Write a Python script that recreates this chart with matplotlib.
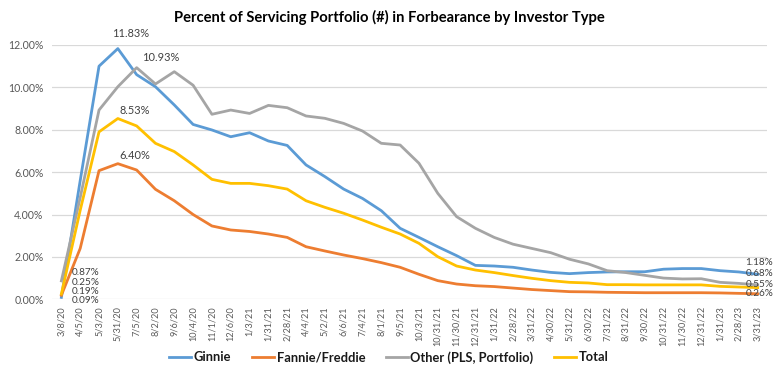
import matplotlib
matplotlib.use("Agg")
import matplotlib.pyplot as plt
from matplotlib.ticker import FuncFormatter

plt.rcParams['font.family'] = ['Lato', 'DejaVu Sans']

dates = ["3/8/20", "4/5/20", "5/3/20", "5/31/20", "7/5/20", "8/2/20", "9/6/20", "10/4/20",
         "11/1/20", "12/6/20", "1/3/21", "1/31/21", "2/28/21", "4/4/21", "5/2/21", "6/6/21",
         "7/4/21", "8/1/21", "9/5/21", "10/3/21", "10/31/21", "11/30/21", "12/31/21", "1/31/22",
         "2/28/22", "3/31/22", "4/30/22", "5/31/22", "6/30/22", "7/31/22", "8/31/22", "9/30/22",
         "10/31/22", "11/30/22", "12/31/22", "1/31/23", "2/28/23", "3/31/23"]

ginnie = [0.09, 5.6, 11.00, 11.83, 10.60, 10.03, 9.17, 8.25, 7.99, 7.67, 7.86, 7.47, 7.26,
          6.34, 5.79, 5.20, 4.76, 4.18, 3.35, 2.92, 2.48, 2.06, 1.60, 1.57, 1.51, 1.38, 1.27,
          1.21, 1.26, 1.29, 1.30, 1.30, 1.42, 1.45, 1.45, 1.35, 1.29, 1.18]
fannie = [0.19, 2.40, 6.07, 6.40, 6.10, 5.19, 4.65, 4.00, 3.46, 3.27, 3.20, 3.08, 2.92,
          2.48, 2.28, 2.09, 1.92, 1.73, 1.51, 1.18, 0.88, 0.72, 0.64, 0.60, 0.53, 0.46, 0.41,
          0.36, 0.35, 0.33, 0.32, 0.31, 0.31, 0.31, 0.31, 0.30, 0.28, 0.26]
other = [0.87, 4.80, 8.93, 10.03, 10.93, 10.16, 10.74, 10.10, 8.73, 8.93, 8.77, 9.15, 9.04,
         8.65, 8.54, 8.30, 7.94, 7.36, 7.28, 6.42, 5.00, 3.90, 3.35, 2.92, 2.60, 2.40, 2.20,
         1.89, 1.67, 1.35, 1.26, 1.13, 1.00, 0.96, 0.97, 0.80, 0.75, 0.68]
total = [0.25, 4.20, 7.90, 8.53, 8.18, 7.36, 6.97, 6.34, 5.66, 5.47, 5.47, 5.36, 5.20,
         4.65, 4.34, 4.06, 3.74, 3.40, 3.08, 2.64, 2.01, 1.57, 1.38, 1.26, 1.12, 0.99, 0.88,
         0.80, 0.77, 0.69, 0.69, 0.68, 0.68, 0.68, 0.68, 0.61, 0.58, 0.55]

series = [("Ginnie", ginnie, "#5B9BD5"),
          ("Fannie/Freddie", fannie, "#ED7D31"),
          ("Other (PLS, Portfolio)", other, "#A5A5A5"),
          ("Total", total, "#FFC000")]

fig = plt.figure(figsize=(7.78, 3.80), dpi=100)
ax = fig.add_axes([0.0668, 0.2124, 0.9192, 0.6692])

x = list(range(len(dates)))
for name, vals, col in series:
    ax.plot(x, vals, color=col, lw=2.0, label=name, solid_joinstyle='round', zorder=3)

ax.set_xlim(-0.5, len(dates) - 0.5)
ax.set_ylim(0, 12)
ax.set_yticks([0, 2, 4, 6, 8, 10, 12])
ax.yaxis.set_major_formatter(FuncFormatter(lambda v, p: f"{v:.2f}%"))
ax.set_xticks(x)
ax.set_xticklabels(dates, rotation=90, fontsize=6.6, color="#595959")
ax.tick_params(axis='y', labelsize=7.6, colors="#595959", length=0, pad=6)
ax.tick_params(axis='x', length=0, pad=5)
ax.grid(axis='y', color="#D9D9D9", lw=0.9, zorder=0)
for s in ax.spines.values():
    s.set_visible(False)

lab_kw = dict(textcoords='offset pixels', fontsize=7.9, color="#404040", annotation_clip=False)
stk_kw = dict(textcoords='offset pixels', fontsize=7.2, color="#404040", annotation_clip=False)
# peak labels
ax.annotate(f"{ginnie[3]:.2f}%", (3, ginnie[3]), xytext=(13, 15), ha='center', va='center', **lab_kw)
ax.annotate(f"{other[4]:.2f}%", (4, other[4]), xytext=(5, 10), ha='left', va='center', **lab_kw)
ax.annotate(f"{total[3]:.2f}%", (3, total[3]), xytext=(17, 8.5), ha='center', va='center', **lab_kw)
ax.annotate(f"{fannie[3]:.2f}%", (3, fannie[3]), xytext=(17, 8), ha='center', va='center', **lab_kw)
# start labels (stacked)
ax.annotate(f"{other[0]:.2f}%", (0, other[0]), xytext=(10, 8.5), ha='left', va='center', **stk_kw)
ax.annotate(f"{total[0]:.2f}%", (0, total[0]), xytext=(10, 11.3), ha='left', va='center', **stk_kw)
ax.annotate(f"{fannie[0]:.2f}%", (0, fannie[0]), xytext=(10, 3.3), ha='left', va='center', **stk_kw)
ax.annotate(f"{ginnie[0]:.2f}%", (0, ginnie[0]), xytext=(10, -3.0), ha='left', va='center', **stk_kw)
# end labels (stacked)
n = len(dates) - 1
ax.annotate(f"{ginnie[n]:.2f}%", (n, ginnie[n]), xytext=(-12, 11.6), ha='left', va='center', **stk_kw)
ax.annotate(f"{other[n]:.2f}%", (n, other[n]), xytext=(-12, 10.9), ha='left', va='center', **stk_kw)
ax.annotate(f"{total[n]:.2f}%", (n, total[n]), xytext=(-12, 3.6), ha='left', va='center', **stk_kw)
ax.annotate(f"{fannie[n]:.2f}%", (n, fannie[n]), xytext=(-12, -0.2), ha='left', va='center', **stk_kw)

fig.text(0.5, 0.953, "Percent of Servicing Portfolio (#) in Forbearance by Investor Type",
         ha='center', va='center', fontsize=10.6, fontweight='bold', color="#000000")

leg = fig.legend(loc='center', bbox_to_anchor=(0.5, 0.06), ncol=4, frameon=False,
                 prop={'weight': 'bold', 'size': 9.3}, handlelength=1.7, handletextpad=0.2,
                 columnspacing=1.6)
for t in leg.get_texts():
    t.set_color("#1a1a1a")

fig.savefig("out.png", dpi=100)
